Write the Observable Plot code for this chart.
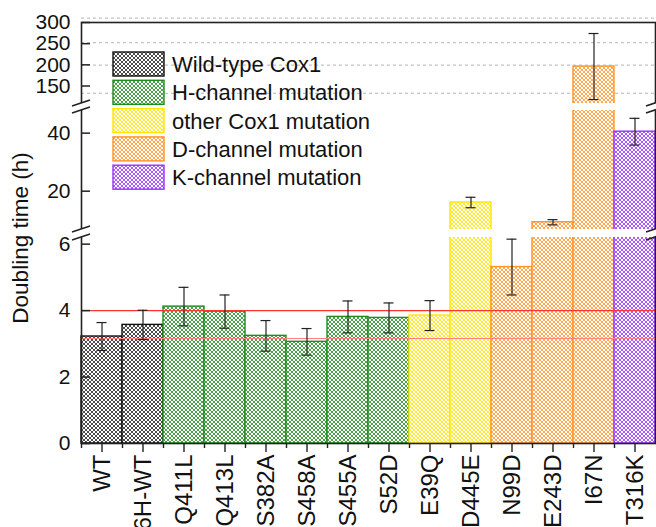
<!DOCTYPE html>
<html><head><meta charset="utf-8">
<script src="https://cdn.jsdelivr.net/npm/d3@7"></script>
<script src="https://cdn.jsdelivr.net/npm/@observablehq/plot@0.6"></script>
<style>
html,body{margin:0;padding:0;background:#fff;}
#chart{width:656px;height:527px;overflow:hidden;}
</style></head><body><div id="chart"></div>
<script>
// ---- data ----
const categories = ["WT","6H-WT","Q411L","Q413L","S382A","S458A","S455A","S52D","E39Q","D445E","N99D","E243D","I67N","T316K"];
const groups     = ["wt","wt","H","H","H","H","H","H","other","other","D","D","D","K"];
const values     = [3.22, 3.57, 4.12, 3.97, 3.24, 3.06, 3.81, 3.78, 3.85, 16.1, 5.31, 9.3, 196, 40.5];
const errors     = [0.42, 0.44, 0.58, 0.50, 0.46, 0.40, 0.48, 0.45, 0.45, 1.8, 0.84, 0.9, 78, 4.6];
const groupKeys   = ["wt","H","other","D","K"];
const groupLabels = ["Wild-type Cox1","H-channel mutation","other Cox1 mutation","D-channel mutation","K-channel mutation"];
const yTicks    = [0,2,4,6,20,40,150,200,250,300];
const gridTicks = [2,4,6,20,40,150,200,250];
const segments  = [[0,6.2],[6.8,47.8],[108.7,300]];   // visible value ranges of the broken axis
const refLines  = [4.0, 3.16];

// ---- styles ----
const groupColors = ["#111111","#1e8c1e","#ffe600","#ff9326","#9b30ff"];
const refColors = ["#ff3333","#ff8080"];

const data = categories.map((c,i)=>({cat:c, group:groups[i], value:values[i], err:errors[i]}));
const gaps = [[segments[0][1], segments[1][0]], [segments[1][1], segments[2][0]]];

const W = 656, H = 527, mL = 81, mR = 1, mT = 22, mB = 84;
const bw = (W - mL - mR) / categories.length;

// piecewise mapping of values to a continuous axis length (broken axis)
const brokenAxis = d3.scaleLinear().domain(segments.flat()).range([0, 206, 214, 333, 340, 421]);
const tickPos = yTicks.map(v => brokenAxis(v));
const fmt = t => String(Math.round(brokenAxis.invert(t)));

const plot = Plot.plot({
  width: W, height: H,
  marginLeft: mL, marginRight: mR, marginTop: mT, marginBottom: mB,
  style: {fontFamily: "'Liberation Sans', Arial, Helvetica, sans-serif", fontSize: "21px", color: "#111", background: "white"},
  x: {domain: categories, padding: 0, axis: null},
  y: {type: "linear", transform: v => brokenAxis(v), domain: [0, 421], axis: null},
  marks: [
    Plot.gridY(gridTicks.map(v => brokenAxis(v)), {stroke: "#b4b4b4", strokeOpacity: 1, strokeDasharray: "3,3", strokeWidth: 1}),
    ...groupKeys.map((g,k) => Plot.barY(data.filter(d => d.group === g), {
      x: "cat", y: "value", fill: `url(#hatch-${g})`, stroke: groupColors[k], strokeWidth: 1.4
    })),
    Plot.ruleY([refLines[0]], {stroke: refColors[0], strokeWidth: 1.2}),
    Plot.ruleY([refLines[1]], {stroke: refColors[1], strokeWidth: 1.2}),
    Plot.ruleX(data, {x: "cat", y1: d => d.value - d.err, y2: d => d.value + d.err, stroke: "#222", strokeWidth: 1.2}),
    Plot.tickY(data, {x: "cat", y: d => d.value + d.err, stroke: "#222", strokeWidth: 1.2, insetLeft: 15.5, insetRight: 15.5}),
    Plot.tickY(data, {x: "cat", y: d => d.value - d.err, stroke: "#222", strokeWidth: 1.2, insetLeft: 15.5, insetRight: 15.5}),
    Plot.frame({stroke: "#222", strokeWidth: 1.6}),
    Plot.rect(gaps, {y1: d => d[0], y2: d => d[1], fill: "white", insetLeft: -8, insetRight: -8}),
    // inward y ticks
    Plot.tickY(yTicks, {y: d => d, stroke: "#222", strokeWidth: 1.5, insetRight: W - mL - mR - 9}),
    Plot.axisY({ticks: tickPos, tickFormat: fmt, tickSize: 0, tickPadding: 11, label: null}),
    Plot.axisX({ticks: categories, tickSize: 9, tickPadding: 2, tickRotate: -90, fontSize: 24, label: null, stroke: "#222", strokeWidth: 1.4}),
    Plot.axisX({ticks: categories, tickSize: 5, fill: "none", label: null, dx: -bw/2, stroke: "#222", strokeWidth: 1.4}),
    Plot.text(["Doubling time (h)"], {frameAnchor: "left", dx: -69, dy: 5, rotate: -90, lineAnchor: "top", textAnchor: "middle", fontSize: 22.5, fill: "#111"})
  ]
});

const svg = d3.select(plot);
const defs = svg.insert("defs", ":first-child");
groupKeys.forEach((g,k) => {
  const p = defs.append("pattern").attr("id", "hatch-" + g)
    .attr("patternUnits", "userSpaceOnUse").attr("width", 4).attr("height", 4);
  p.append("rect").attr("width", 4).attr("height", 4).attr("fill", "white");
  p.append("path").attr("d", "M0,0L4,4M4,0L0,4")
    .attr("stroke", groupColors[k]).attr("stroke-width", g === "wt" ? 0.75 : 0.8).attr("fill", "none");
});

// break marks on both vertical edges
const ys = plot.scale("y");
const brk = svg.append("g").attr("stroke", "#222").attr("stroke-width", 1.6);
gaps.forEach(([a,b]) => {
  [ys.apply(brokenAxis(a)), ys.apply(brokenAxis(b))].forEach(yp => {
    [mL, W - mR].forEach(xp => {
      brk.append("line").attr("x1", xp - 9).attr("y1", yp + 3).attr("x2", xp + 9).attr("y2", yp - 3);
    });
  });
});

// legend
const lg = svg.append("g").attr("font-size", 22).attr("text-anchor", "start");
groupKeys.forEach((g,k) => {
  const top = 52 + k * 28.3;
  lg.append("rect").attr("x", 113).attr("y", top).attr("width", 51).attr("height", 24)
    .attr("fill", `url(#hatch-${g})`).attr("stroke", groupColors[k]).attr("stroke-width", 1.4);
  lg.append("text").attr("x", 172).attr("y", top + 12).attr("dy", "0.36em")
    .attr("fill", "#111").text(groupLabels[k]);
});

document.getElementById("chart").appendChild(plot);
</script></body></html>
